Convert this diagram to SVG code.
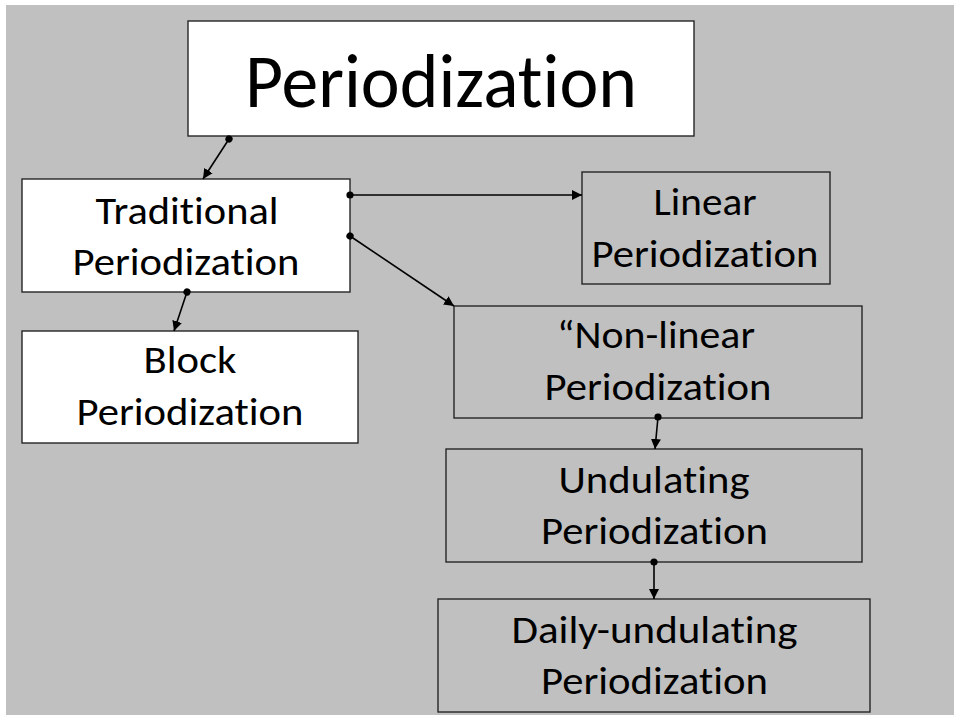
<svg xmlns="http://www.w3.org/2000/svg" width="954" height="715" viewBox="0 0 954 715">
  <style>
    .box { stroke: #262626; stroke-width: 1.4; }
    .white { fill: #ffffff; }
    .grey { fill: #c0c0c0; }
    text { font-family: Carlito, Lato, "Open Sans", sans-serif; fill: #000000; text-anchor: middle; font-variant-ligatures: none; font-feature-settings: "liga" 0, "clig" 0; }
    .label { font-size: 38px; }
    .title { font-size: 76px; }
    .link { stroke: #000000; stroke-width: 1.6; fill: none; marker-start: url(#dot); marker-end: url(#head); }
  </style>
  <defs>
    <marker id="dot" viewBox="0 0 8 8" refX="4" refY="4" markerWidth="8" markerHeight="8" markerUnits="userSpaceOnUse" orient="auto">
      <circle cx="4" cy="4" r="3.6" fill="#000000"/>
    </marker>
    <marker id="head" viewBox="0 0 10 10" refX="10" refY="5" markerWidth="10" markerHeight="10" markerUnits="userSpaceOnUse" orient="auto">
      <path d="M0,0 L10,5 L0,10 Z" fill="#000000"/>
    </marker>
  </defs>

  <!-- page -->
  <rect x="0" y="0" width="954" height="715" fill="#ffffff"/>
  <rect x="6" y="5" width="948" height="710" fill="#c0c0c0"/>

  <g id="periodization">
    <rect class="box white" x="188" y="21" width="506" height="115"/>
    <text class="title" x="441" y="107" textLength="392" lengthAdjust="spacingAndGlyphs">Periodization</text>
  </g>

  <g id="traditional">
    <rect class="box white" x="22" y="179" width="328" height="113"/>
    <text class="label" x="187" y="224" textLength="183" lengthAdjust="spacingAndGlyphs">Traditional</text>
    <text class="label" x="186" y="275" textLength="227" lengthAdjust="spacingAndGlyphs">Periodization</text>
  </g>

  <g id="block">
    <rect class="box white" x="22" y="331" width="336" height="112"/>
    <text class="label" x="190" y="373" textLength="93" lengthAdjust="spacingAndGlyphs">Block</text>
    <text class="label" x="190" y="425" textLength="227" lengthAdjust="spacingAndGlyphs">Periodization</text>
  </g>

  <g id="linear">
    <rect class="box grey" x="582" y="172" width="248" height="112"/>
    <text class="label" x="705" y="215" textLength="103" lengthAdjust="spacingAndGlyphs">Linear</text>
    <text class="label" x="705" y="267" textLength="227" lengthAdjust="spacingAndGlyphs">Periodization</text>
  </g>

  <g id="nonlinear">
    <rect class="box grey" x="454" y="306" width="408" height="112"/>
    <text class="label" x="656" y="348" textLength="198" lengthAdjust="spacingAndGlyphs">“Non-linear</text>
    <text class="label" x="658" y="400" textLength="227" lengthAdjust="spacingAndGlyphs">Periodization</text>
  </g>

  <g id="undulating">
    <rect class="box grey" x="446" y="449" width="416" height="113"/>
    <text class="label" x="654" y="493" textLength="191" lengthAdjust="spacingAndGlyphs">Undulating</text>
    <text class="label" x="654.5" y="544" textLength="227" lengthAdjust="spacingAndGlyphs">Periodization</text>
  </g>

  <g id="daily">
    <rect class="box grey" x="438" y="599" width="432" height="113"/>
    <text class="label" x="654.5" y="643" textLength="286" lengthAdjust="spacingAndGlyphs">Daily-undulating</text>
    <text class="label" x="654.5" y="694" textLength="227" lengthAdjust="spacingAndGlyphs">Periodization</text>
  </g>

  <g id="connectors">
    <line class="link" x1="229" y1="139" x2="203" y2="179"/>
    <line class="link" x1="350" y1="195" x2="582" y2="195"/>
    <line class="link" x1="350" y1="236" x2="454" y2="306"/>
    <line class="link" x1="187" y1="292" x2="174" y2="331"/>
    <line class="link" x1="658" y1="417" x2="655" y2="449"/>
    <line class="link" x1="654" y1="562" x2="654" y2="599"/>
  </g>
</svg>
